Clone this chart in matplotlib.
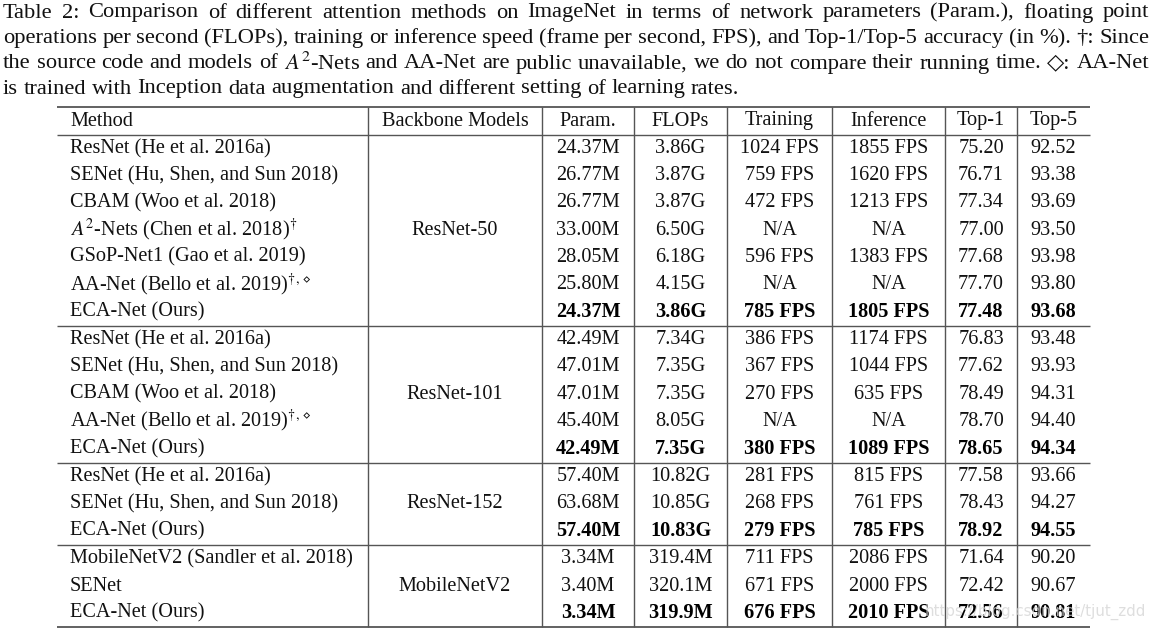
import matplotlib
matplotlib.use("Agg")
import matplotlib.pyplot as plt

plt.rcParams['font.family'] = ['Liberation Serif', 'DejaVu Serif']
plt.rcParams['mathtext.fontset'] = 'stix'

# ---------------- data ----------------
caption_lines = [
    "Table 2: Comparison of different attention methods on ImageNet in terms of network parameters (Param.), floating point",
    "operations per second (FLOPs), training or inference speed (frame per second, FPS), and Top-1/Top-5 accuracy (in %). \u2020: Since",
    "the source code and models of $A^2$-Nets and AA-Net are public unavailable, we do not compare their running time. \u25C7: AA-Net",
    "is trained with Inception data augmentation and different setting of learning rates.",
]
headers = ["Method", "Backbone Models", "Param.", "FLOPs", "Training", "Inference", "Top-1", "Top-5"]
backbones = ["ResNet-50", "ResNet-101", "ResNet-152", "MobileNetV2"]
methods = [
    ["ResNet (He et al. 2016a)", "SENet (Hu, Shen, and Sun 2018)", "CBAM (Woo et al. 2018)",
     "$A^2$-Nets (Chen et al. 2018)$^{\\dagger}$", "GSoP-Net1 (Gao et al. 2019)",
     "AA-Net (Bello et al. 2019)$^{\\dagger,\\diamond}$", "ECA-Net (Ours)"],
    ["ResNet (He et al. 2016a)", "SENet (Hu, Shen, and Sun 2018)", "CBAM (Woo et al. 2018)",
     "AA-Net (Bello et al. 2019)$^{\\dagger,\\diamond}$", "ECA-Net (Ours)"],
    ["ResNet (He et al. 2016a)", "SENet (Hu, Shen, and Sun 2018)", "ECA-Net (Ours)"],
    ["MobileNetV2 (Sandler et al. 2018)", "SENet", "ECA-Net (Ours)"],
]
params = [
    ["24.37M", "26.77M", "26.77M", "33.00M", "28.05M", "25.80M", "24.37M"],
    ["42.49M", "47.01M", "47.01M", "45.40M", "42.49M"],
    ["57.40M", "63.68M", "57.40M"],
    ["3.34M", "3.40M", "3.34M"],
]
flops = [
    ["3.86G", "3.87G", "3.87G", "6.50G", "6.18G", "4.15G", "3.86G"],
    ["7.34G", "7.35G", "7.35G", "8.05G", "7.35G"],
    ["10.82G", "10.85G", "10.83G"],
    ["319.4M", "320.1M", "319.9M"],
]
training = [
    ["1024 FPS", "759 FPS", "472 FPS", "N/A", "596 FPS", "N/A", "785 FPS"],
    ["386 FPS", "367 FPS", "270 FPS", "N/A", "380 FPS"],
    ["281 FPS", "268 FPS", "279 FPS"],
    ["711 FPS", "671 FPS", "676 FPS"],
]
inference = [
    ["1855 FPS", "1620 FPS", "1213 FPS", "N/A", "1383 FPS", "N/A", "1805 FPS"],
    ["1174 FPS", "1044 FPS", "635 FPS", "N/A", "1089 FPS"],
    ["815 FPS", "761 FPS", "785 FPS"],
    ["2086 FPS", "2000 FPS", "2010 FPS"],
]
top1 = [
    ["75.20", "76.71", "77.34", "77.00", "77.68", "77.70", "77.48"],
    ["76.83", "77.62", "78.49", "78.70", "78.65"],
    ["77.58", "78.43", "78.92"],
    ["71.64", "72.42", "72.56"],
]
top5 = [
    ["92.52", "93.38", "93.69", "93.50", "93.98", "93.80", "93.68"],
    ["93.48", "93.93", "94.31", "94.40", "94.34"],
    ["93.66", "94.27", "94.55"],
    ["90.20", "90.67", "90.81"],
]
watermark = "https://blog.csdn.net/tjut_zdd"

# ---------------- layout ----------------
W, H = 1154, 639
fig = plt.figure(figsize=(W / 100, H / 100), dpi=100)
ax = fig.add_axes([0, 0, 1, 1])
ax.set_xlim(0, W)
ax.set_ylim(H, 0)
ax.axis("off")

FS = 14.6
CFS = 16.2
TXT = "#111111"
LINE = "#555555"

# caption, justified
renderer = fig.canvas.get_renderer()
cap_left, cap_right = 3, 1149
cap_y = [13, 38.5, 64, 89]
for li, line in enumerate(caption_lines):
    words = line.split(" ")
    objs = [ax.text(0, cap_y[li], w, fontsize=CFS, color=TXT, va="center", ha="left") for w in words]
    widths = [o.get_window_extent(renderer=renderer).width for o in objs]
    if li < len(caption_lines) - 1:
        gap = (cap_right - cap_left - sum(widths)) / (len(words) - 1)
    else:
        sp = ax.text(0, 0, "a b", fontsize=CFS)
        sp2 = ax.text(0, 0, "ab", fontsize=CFS)
        gap = sp.get_window_extent(renderer=renderer).width - sp2.get_window_extent(renderer=renderer).width
        sp.remove(); sp2.remove()
    x = cap_left
    for o, w in zip(objs, widths):
        o.set_x(x)
        x += w + gap

# table geometry
tab_left, tab_right = 57, 1090
vlines = [368, 542, 634, 727, 832, 945, 1017]
col_edges = [tab_left] + vlines + [tab_right]
top_rule = 107
header_y = 121
header_rule = 134.5
pitch = 27.2

for j, h in enumerate(headers):
    if j == 0:
        ax.text(70, header_y, h, fontsize=FS, color=TXT, va="center", ha="left")
    else:
        ax.text((col_edges[j] + col_edges[j + 1]) / 2, header_y, h, fontsize=FS,
                color=TXT, va="center", ha="center")

rules = [top_rule, header_rule]
y = header_rule
cols = [params, flops, training, inference, top1, top5]
for g in range(len(backbones)):
    n = len(methods[g])
    start = y
    for i in range(n):
        yc = start + 14 + pitch * i
        ax.text(70, yc, methods[g][i], fontsize=FS, color=TXT, va="center", ha="left")
        bold = (i == n - 1)
        for c, col in enumerate(cols):
            xc = (col_edges[c + 2] + col_edges[c + 3]) / 2
            ax.text(xc, yc, col[g][i], fontsize=FS, color="black" if bold else TXT,
                    va="center", ha="center", fontweight="bold" if bold else "normal")
    end = start + 14 + pitch * (n - 1) + 14
    ax.text((col_edges[1] + col_edges[2]) / 2, (start + end) / 2, backbones[g],
            fontsize=FS, color=TXT, va="center", ha="center")
    rules.append(end)
    y = end

for k, r in enumerate(rules):
    lw = 1.3 if k in (0, len(rules) - 1) else 1.0
    ax.plot([tab_left, tab_right], [r, r], color=LINE, lw=lw, solid_capstyle="butt")
for vx in vlines:
    ax.plot([vx, vx], [top_rule, rules[-1]], color=LINE, lw=1.0, solid_capstyle="butt")

ax.text(1146, 612, watermark, fontsize=10.8, family="DejaVu Sans", color="#d4d4d4",
        alpha=0.75, va="center", ha="right", zorder=5)

fig.savefig("out.png", dpi=100)
